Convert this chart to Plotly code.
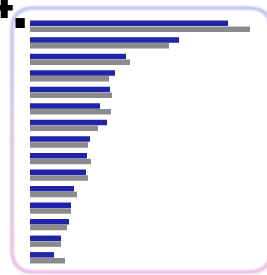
import plotly.graph_objects as go

# ---- data ----
categories = [str(i) for i in range(1, 16)]
blue_values = [198, 149, 96, 85, 80, 70, 77, 60, 57, 56, 44, 41, 39, 31, 24]
gray_values = [220, 139, 100, 79, 82, 81, 68, 58, 61, 58, 47, 41, 37, 31, 35]
heading_number = "4"
heading_dot = "."

W, H = 267, 275


def px(x):
    return x / W


def py(y):
    return 1 - y / H


fig = go.Figure()
fig.add_trace(go.Bar(y=categories, x=blue_values, orientation="h",
                     marker=dict(color="#1f24a8", line=dict(width=0)), name="A"))
fig.add_trace(go.Bar(y=categories, x=gray_values, orientation="h",
                     marker=dict(color="#8b8b8b", line=dict(width=0)), name="B"))

shapes = []


def seg(path_pts, color, width=3):
    d = ""
    for cmd in path_pts:
        c = cmd[0]
        nums = cmd[1:]
        conv = []
        for i in range(0, len(nums), 2):
            conv.append(f"{px(nums[i]):.5f},{py(nums[i+1]):.5f}")
        d += c + " " + " ".join(conv) + " "
    shapes.append(dict(type="path", path=d.strip(), xref="paper", yref="paper",
                       line=dict(color=color, width=width), layer="below"))


L, T, R, B, r = 12, 8, 271, 272, 22


def hex2rgb(h):
    return tuple(int(h[i:i+2], 16) for i in (1, 3, 5))


def mix(c1, c2, t):
    a, b = hex2rgb(c1), hex2rgb(c2)
    return "#%02x%02x%02x" % tuple(round(a[i] + (b[i] - a[i]) * t) for i in range(3))


top_c = "#c8cbf2"
bot_c = "#efc4e4"
for w, alpha in ((6, 0.35), (3, 1.0)):
    def cc(c):
        r_, g_, b_ = hex2rgb(c)
        return f"rgba({r_},{g_},{b_},{alpha})"
    seg([("M", R, T + r), ("Q", R, T, R - r, T), ("L", L + r, T), ("Q", L, T, L, T + r)], cc(top_c), w)
    n = 10
    for i in range(n):
        y0 = T + r + (B - r - T - r) * i / n
        y1 = T + r + (B - r - T - r) * (i + 1) / n
        seg([("M", L, y0), ("L", L, y1 + 0.5)], cc(mix(top_c, bot_c, (i + 0.5) / n)), w)
    seg([("M", L, B - r), ("Q", L, B, L + r, B), ("L", R - r, B), ("Q", R, B, R, B - r)], cc(bot_c), w)

fig.update_layout(
    width=W, height=H,
    margin=dict(l=0, r=0, t=0, b=0, autoexpand=False),
    paper_bgcolor="white", plot_bgcolor="white",
    barmode="group", bargap=0.3, bargroupgap=0.05,
    showlegend=False,
    shapes=shapes,
    xaxis=dict(domain=[px(30), 1], range=[0, 237], visible=False, fixedrange=True),
    yaxis=dict(domain=[py(266), py(18)], autorange="reversed", visible=False,
               type="category", fixedrange=True),
    annotations=[
        dict(text=f"<b>{heading_number}</b>", xref="paper", yref="paper",
             x=px(14), y=py(16), xanchor="right", yanchor="bottom", showarrow=False,
             font=dict(family="Liberation Sans, Arial", size=54, color="black"),
             borderpad=0, yshift=-14),
        dict(text=f"<b>{heading_dot}</b>", xref="paper", yref="paper",
             x=px(9.5), y=py(25), xanchor="left", yanchor="bottom", showarrow=False,
             font=dict(family="Liberation Sans, Arial", size=66, color="black"),
             borderpad=0, yshift=-18),
    ],
)

fig.write_html("out.html", config={"displayModeBar": False},
               post_script="document.body.style.margin='0';document.body.style.overflow='hidden';")
